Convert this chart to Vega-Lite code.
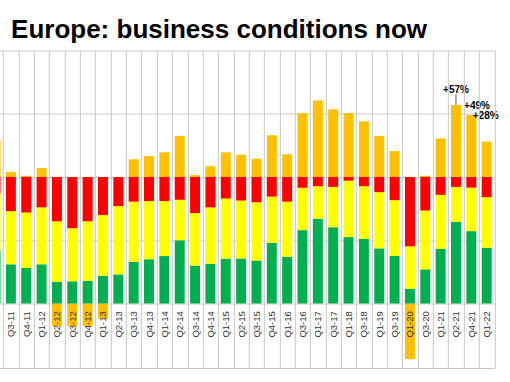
{
  "$schema": "https://vega.github.io/schema/vega-lite/v6.json",
  "width": 506.5,
  "height": 253,
  "autosize": {"type": "none"},
  "padding": {"left": -12.15, "top": 50.5, "right": 15.65, "bottom": 78.5},
  "background": "white",
  "title": {
    "text": "Europe: business conditions now",
    "anchor": "start",
    "frame": "group",
    "orient": "top",
    "offset": 13.2,
    "baseline": "alphabetic",
    "dx": 23.2,
    "dy": 27,
    "font": "Liberation Sans",
    "fontSize": 26,
    "fontWeight": "bold",
    "color": "#000000"
  },
  "datasets": {
    "bars": [
      {"q": "Q2-11", "green": 42, "yellow": 45, "red": 13, "net": 29},
      {"q": "Q3-11", "green": 31, "yellow": 42, "red": 27, "net": 4},
      {"q": "Q4-11", "green": 28, "yellow": 44, "red": 28, "net": 1},
      {"q": "Q1-12", "green": 31, "yellow": 45, "red": 24, "net": 7},
      {"q": "Q2-12", "green": 17, "yellow": 48, "red": 35, "net": -18},
      {"q": "Q3-12", "green": 17.5, "yellow": 42, "red": 40.5, "net": -18},
      {"q": "Q4-12", "green": 18, "yellow": 47, "red": 35, "net": -18},
      {"q": "Q1-13", "green": 22, "yellow": 48, "red": 30, "net": -12},
      {"q": "Q2-13", "green": 23, "yellow": 54, "red": 23, "net": 0},
      {"q": "Q3-13", "green": 33, "yellow": 47.5, "red": 19.5, "net": 14},
      {"q": "Q4-13", "green": 35, "yellow": 46, "red": 19, "net": 16.5},
      {"q": "Q1-14", "green": 37.5, "yellow": 43.5, "red": 19, "net": 19.5},
      {"q": "Q2-14", "green": 50, "yellow": 32, "red": 18, "net": 32.5},
      {"q": "Q3-14", "green": 30, "yellow": 41.5, "red": 28.5, "net": 1.5},
      {"q": "Q4-14", "green": 31.5, "yellow": 44.5, "red": 24, "net": 8.5},
      {"q": "Q1-15", "green": 35.5, "yellow": 47.5, "red": 17, "net": 19.5},
      {"q": "Q2-15", "green": 35.5, "yellow": 46, "red": 18.5, "net": 17.5},
      {"q": "Q3-15", "green": 34, "yellow": 46, "red": 20, "net": 14.5},
      {"q": "Q4-15", "green": 48, "yellow": 36.5, "red": 15.5, "net": 33},
      {"q": "Q1-16", "green": 37, "yellow": 43.5, "red": 19.5, "net": 18},
      {"q": "Q3-16", "green": 58, "yellow": 33.5, "red": 8.5, "net": 50.5},
      {"q": "Q1-17", "green": 67, "yellow": 25.7, "red": 7.3, "net": 60.5},
      {"q": "Q3-17", "green": 60.3, "yellow": 31.9, "red": 7.8, "net": 53.5},
      {"q": "Q1-18", "green": 52.5, "yellow": 44.6, "red": 2.9, "net": 50.5},
      {"q": "Q3-18", "green": 51, "yellow": 41.7, "red": 7.3, "net": 44},
      {"q": "Q1-19", "green": 43.6, "yellow": 44.4, "red": 12, "net": 32.5},
      {"q": "Q3-19", "green": 37.6, "yellow": 44.1, "red": 18.3, "net": 20.5},
      {"q": "Q1-20", "green": 11.7, "yellow": 33.5, "red": 54.8, "net": -44},
      {"q": "Q3-20", "green": 27, "yellow": 46.5, "red": 26.5, "net": 1},
      {"q": "Q1-21", "green": 43.3, "yellow": 42.6, "red": 14.1, "net": 30.5},
      {"q": "Q2-21", "green": 64.5, "yellow": 27.7, "red": 7.8, "net": 57, "note": "+57%"},
      {"q": "Q4-21", "green": 57.2, "yellow": 34.4, "red": 8.4, "net": 49, "note": "+49%"},
      {"q": "Q1-22", "green": 44.1, "yellow": 40, "red": 15.9, "net": 28, "note": "+28%"}
    ]
  },
  "data": {"name": "bars"},
  "layer": [
    {
      "transform": [
        {"calculate": "datum.net >= 0 ? 100 : 0", "as": "lo"},
        {"calculate": "datum.lo + datum.net", "as": "hi"}
      ],
      "mark": {"type": "bar", "color": "#FFC000", "width": {"band": 0.65}},
      "encoding": {
        "x": {"field": "q", "type": "nominal", "sort": null, "title": null, "scale": {"paddingInner": 0, "paddingOuter": 0}, "axis": {"zindex": 1, "labelExpr": "datum.value == 'Q2-11' ? '' : datum.value"}},
        "y": {"field": "hi", "type": "quantitative", "title": null, "scale": {"domain": [0, 200], "nice": false}},
        "y2": {"field": "lo"}
      }
    },
    {
      "transform": [
        {"fold": ["green", "yellow", "red"], "as": ["cat", "pct"]},
        {"calculate": "indexof(['green','yellow','red'], datum.cat)", "as": "ord"}
      ],
      "mark": {"type": "bar", "width": {"band": 0.65}},
      "encoding": {
        "x": {"field": "q", "type": "nominal", "sort": null, "title": null, "scale": {"paddingInner": 0, "paddingOuter": 0}, "axis": {"zindex": 1, "labelExpr": "datum.value == 'Q2-11' ? '' : datum.value"}},
        "y": {"field": "pct", "type": "quantitative", "stack": "zero", "title": null, "scale": {"domain": [0, 200], "nice": false}},
        "color": {"field": "cat", "type": "nominal", "legend": null, "scale": {"domain": ["green", "yellow", "red"], "range": ["#00B050", "#FFFF00", "#FF0000"]}},
        "order": {"field": "ord", "type": "quantitative"}
      }
    },
    {
      "data": {"values": [{}]},
      "mark": {"type": "rule", "color": "#c8c8c8", "strokeWidth": 1},
      "encoding": {
        "y": {"datum": -51.4, "type": "quantitative", "title": null, "scale": {"domain": [0, 200], "nice": false}}
      }
    },
    {
      "transform": [{"filter": "datum.q == 'Q2-21'"}],
      "mark": {"type": "rule", "color": "#555555", "strokeWidth": 1},
      "encoding": {
        "x": {"field": "q", "type": "nominal", "sort": null, "title": null, "scale": {"paddingInner": 0, "paddingOuter": 0}, "axis": {"zindex": 1, "labelExpr": "datum.value == 'Q2-11' ? '' : datum.value"}},
        "y": {"datum": 157, "type": "quantitative", "title": null, "scale": {"domain": [0, 200], "nice": false}},
        "y2": {"datum": 165.4}
      }
    },
    {
      "transform": [{"filter": "datum.q == 'Q2-21'"}, {"calculate": "100 + datum.net", "as": "top"}],
      "mark": {"type": "text", "font": "Liberation Sans", "fontSize": 10, "fontWeight": "bold", "color": "#000000", "baseline": "alphabetic", "align": "center", "dy": -11.4},
      "encoding": {
        "x": {"field": "q", "type": "nominal", "sort": null, "title": null, "scale": {"paddingInner": 0, "paddingOuter": 0}, "axis": {"zindex": 1, "labelExpr": "datum.value == 'Q2-11' ? '' : datum.value"}},
        "y": {"field": "top", "type": "quantitative", "title": null, "scale": {"domain": [0, 200], "nice": false}},
        "text": {"field": "note"}
      }
    },
    {
      "transform": [{"filter": "datum.q == 'Q4-21'"}, {"calculate": "100 + datum.net", "as": "top"}],
      "mark": {"type": "text", "font": "Liberation Sans", "fontSize": 10, "fontWeight": "bold", "color": "#000000", "baseline": "alphabetic", "align": "center", "dx": 5.7, "dy": -6.5},
      "encoding": {
        "x": {"field": "q", "type": "nominal", "sort": null, "title": null, "scale": {"paddingInner": 0, "paddingOuter": 0}, "axis": {"zindex": 1, "labelExpr": "datum.value == 'Q2-11' ? '' : datum.value"}},
        "y": {"field": "top", "type": "quantitative", "title": null, "scale": {"domain": [0, 200], "nice": false}},
        "text": {"field": "note"}
      }
    },
    {
      "transform": [{"filter": "datum.q == 'Q1-22'"}, {"calculate": "100 + datum.net", "as": "top"}],
      "mark": {"type": "text", "font": "Liberation Sans", "fontSize": 10, "fontWeight": "bold", "color": "#000000", "baseline": "alphabetic", "align": "center", "dx": -1, "dy": -23},
      "encoding": {
        "x": {"field": "q", "type": "nominal", "sort": null, "title": null, "scale": {"paddingInner": 0, "paddingOuter": 0}, "axis": {"zindex": 1, "labelExpr": "datum.value == 'Q2-11' ? '' : datum.value"}},
        "y": {"field": "top", "type": "quantitative", "title": null, "scale": {"domain": [0, 200], "nice": false}},
        "text": {"field": "note"}
      }
    }
  ],
  "config": {
    "view": {"stroke": null},
    "font": "Liberation Sans",
    "axisX": {
      "domain": false,
      "grid": true,
      "gridColor": "#c8c8c8",
      "gridWidth": 1,
      "tickBand": "extent",
      "ticks": true,
      "tickSize": 65,
      "tickColor": "#c8c8c8",
      "tickWidth": 1,
      "labelAngle": -90,
      "labelPadding": -57.8,
      "labelFont": "Liberation Sans",
      "labelFontSize": 9.5,
      "labelColor": "#333333",
      "labelOverlap": false
    },
    "axisY": {
      "domain": false,
      "ticks": false,
      "labels": false,
      "grid": true,
      "gridColor": "#dcdcdc",
      "gridWidth": 1.5,
      "tickCount": 4
    }
  }
}
